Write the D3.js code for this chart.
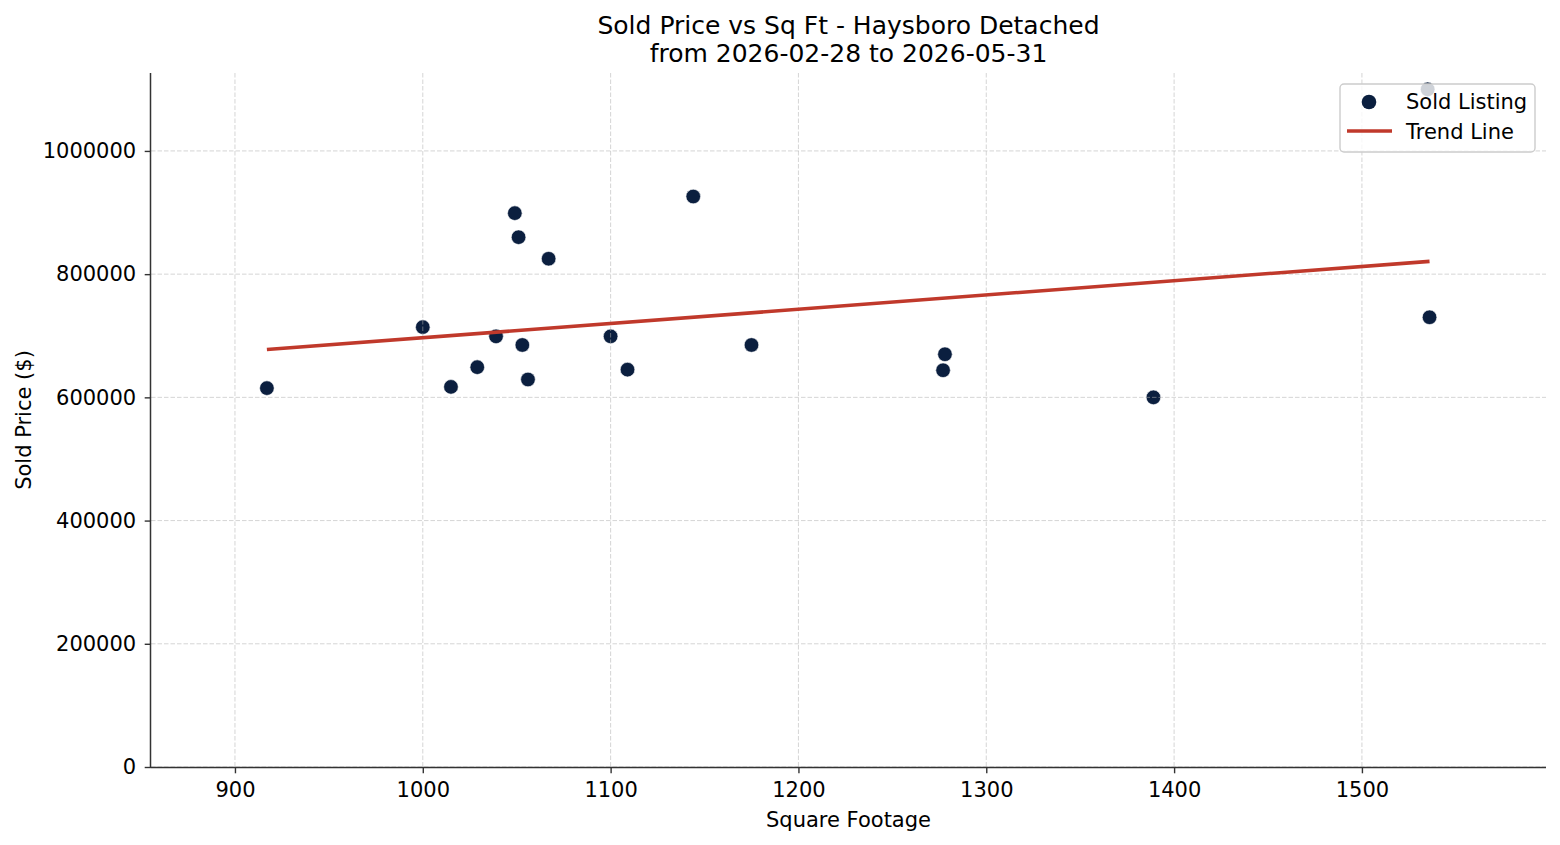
<!DOCTYPE html>
<html>
<head>
<meta charset="utf-8">
<script src="https://cdn.jsdelivr.net/npm/d3@7"></script>
<style>
  html, body { margin: 0; padding: 0; background: #fff; }
  svg { display: block; font-family: "DejaVu Sans", sans-serif; }
</style>
</head>
<body>
<div id="chart"></div>
<script>
// Sold listings
const sqft = [917, 1000, 1015, 1029, 1039, 1049, 1051, 1053, 1056, 1067, 1100, 1109, 1144, 1175, 1278, 1277, 1389, 1536, 1535];
const price = [615000, 714000, 617000, 649000, 699000, 899000, 860000, 685000, 629000, 825000, 699000, 645000, 926000, 685000, 670000, 644000, 600000, 730000, 1100000];
const xTicks = [900, 1000, 1100, 1200, 1300, 1400, 1500];
const yTicks = [0, 200000, 400000, 600000, 800000, 1000000];
const legendLabels = ['Sold Listing', 'Trend Line'];

const W = 1560, H = 845;
const margin = { top: 73, right: 14, bottom: 78, left: 151 };
const width = W - margin.left - margin.right;
const height = H - margin.top - margin.bottom;

const pointColor = '#0b1f3f';
const trendColor = '#c0392b';
const axisColor = '#333333';
const fontSize = '21px';

const svg = d3.select('#chart').append('svg')
  .attr('width', W)
  .attr('height', H);

const g = svg.append('g')
  .attr('transform', `translate(${margin.left},${margin.top})`);

const x = d3.scaleLinear().domain([855.3, 1598]).range([0, width]);
const y = d3.scaleLinear().domain([0, 1126500]).range([height, 0]);

// least squares fit, like np.polyfit(x, y, 1)
const mx = d3.mean(sqft), my = d3.mean(price);
const sxy = d3.sum(sqft, (d, i) => (d - mx) * (price[i] - my));
const sxx = d3.sum(sqft, d => (d - mx) * (d - mx));
const slope = sxy / sxx;
const intercept = my - slope * mx;
const trend = d3.extent(sqft).map(v => ({ x: v, y: slope * v + intercept }));

// Points
g.append('g')
  .selectAll('circle')
  .data(sqft.map((d, i) => ({ x: d, y: price[i] })))
  .join('circle')
  .attr('cx', d => x(d.x))
  .attr('cy', d => y(d.y))
  .attr('r', 7.3)
  .attr('fill', pointColor)
  .attr('stroke', '#ffffff')
  .attr('stroke-width', 0.6);

// Grid (drawn above the scatter, as in the reference)
const grid = g.append('g')
  .attr('stroke', '#b0b0b0')
  .attr('stroke-opacity', 0.6)
  .attr('stroke-width', 0.9)
  .attr('stroke-dasharray', '4.5,2');

grid.selectAll('.gx')
  .data(xTicks)
  .join('line')
  .attr('x1', d => x(d)).attr('x2', d => x(d))
  .attr('y1', 0).attr('y2', height);

grid.selectAll('.gy')
  .data(yTicks)
  .join('line')
  .attr('x1', 0).attr('x2', width)
  .attr('y1', d => y(d)).attr('y2', d => y(d));

// Trend line
g.append('path')
  .datum(trend)
  .attr('fill', 'none')
  .attr('stroke', trendColor)
  .attr('stroke-width', 3.6)
  .attr('d', d3.line().x(d => x(d.x)).y(d => y(d.y)));

// Axes
const xAxis = g.append('g')
  .attr('transform', `translate(0,${height})`)
  .call(d3.axisBottom(x).tickValues(xTicks).tickSize(6.3).tickPadding(8.5).tickFormat(d3.format('d')));

const yAxis = g.append('g')
  .call(d3.axisLeft(y).tickValues(yTicks).tickSize(6.3).tickPadding(8.5).tickFormat(d3.format('d')));

[xAxis, yAxis].forEach(a => {
  a.select('.domain').attr('stroke', axisColor).attr('stroke-width', 1.5);
  a.selectAll('.tick line').attr('stroke', axisColor).attr('stroke-width', 1.4);
  a.selectAll('.tick text')
    .attr('fill', '#000')
    .style('font-size', fontSize)
    .style('font-family', '"DejaVu Sans", sans-serif');
});

// extend spines to the plot edges (no end ticks)
xAxis.select('.domain').attr('d', `M0,0.5H${width}`);
yAxis.select('.domain').attr('d', `M-0.5,0V${height}`);

// Axis labels
svg.append('text')
  .attr('x', margin.left + width / 2)
  .attr('y', 827)
  .attr('text-anchor', 'middle')
  .style('font-size', fontSize)
  .text('Square Footage');

svg.append('text')
  .attr('transform', `translate(31,${margin.top + height / 2}) rotate(-90)`)
  .attr('text-anchor', 'middle')
  .style('font-size', fontSize)
  .text('Sold Price ($)');

// Title
const title = svg.append('text')
  .attr('x', margin.left + width / 2)
  .attr('text-anchor', 'middle')
  .style('font-size', '25px');
title.append('tspan').attr('x', margin.left + width / 2).attr('y', 34)
  .text('Sold Price vs Sq Ft - Haysboro Detached');
title.append('tspan').attr('x', margin.left + width / 2).attr('y', 62)
  .text('from 2026-02-28 to 2026-05-31');

// Legend
const legend = svg.append('g').attr('transform', `translate(1340,84)`);
legend.append('rect')
  .attr('width', 195).attr('height', 68)
  .attr('rx', 4)
  .attr('fill', '#ffffff').attr('fill-opacity', 0.8)
  .attr('stroke', '#cccccc').attr('stroke-width', 1.4);

legend.append('circle')
  .attr('cx', 29).attr('cy', 18).attr('r', 7.3)
  .attr('fill', pointColor);

legend.append('line')
  .attr('x1', 7).attr('x2', 52)
  .attr('y1', 47).attr('y2', 47)
  .attr('stroke', trendColor).attr('stroke-width', 3.6);

legend.selectAll('.lt')
  .data(legendLabels)
  .join('text')
  .attr('x', 66)
  .attr('y', (d, i) => 25 + i * 30)
  .style('font-size', fontSize)
  .text(d => d);
</script>
</body>
</html>
